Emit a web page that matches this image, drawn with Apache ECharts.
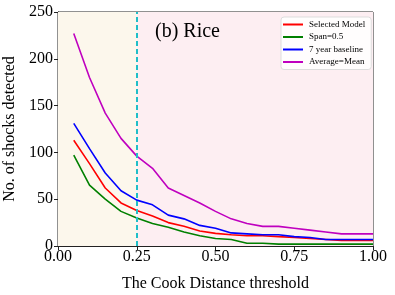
<!DOCTYPE html>
<html><head><meta charset="utf-8">
<script src="https://cdn.jsdelivr.net/npm/echarts@6/dist/echarts.min.js"></script>
<style>html,body{margin:0;padding:0;background:#fff}#c{width:395px;height:295px}</style>
</head><body><div id="c"></div>
<script>
const thresholds = [0.05,0.10,0.15,0.20,0.25,0.30,0.35,0.40,0.45,0.50,0.55,0.60,0.65,0.70,0.75,0.80,0.85,0.90,0.95,1.00];
const selectedModel = [113,88,62,46,38,32,25,21,16,13.5,12,11,11,10,9,8,7,6,6,6];
const span05 = [97,65,50,37,30,24,20,15,11,8,7,3,3,2,2,2,2,2,2,2];
const baseline7 = [131,104,78,59,49,44,33,29,22,19,14,13,12,12,10,9,7,7,7,7];
const averageMean = [227,180,142,115,96,83,62,54,46,37,29,24,21,21,19,17,15,13,13,13];
const xTicks = ['0.00','0.25','0.50','0.75','1.00'];
const cutoff = 0.25;

const pair = arr => thresholds.map((x,i)=>[x,arr[i]]);
const serif = '"Liberation Serif","DejaVu Serif",serif';
const chart = echarts.init(document.getElementById('c'));
const mk = (name,color,arr)=>({name,type:'line',data:pair(arr),symbol:'none',
  lineStyle:{color,width:1.6},itemStyle:{color},z:3});
const s1 = mk('Selected Model','#ff0000',selectedModel);
s1.markArea = {silent:true,data:[
  [{xAxis:0,itemStyle:{color:'#fcf7ec'}},{xAxis:cutoff}],
  [{xAxis:cutoff,itemStyle:{color:'#fdeef2'}},{xAxis:1}]
]};
s1.markLine = {silent:true,symbol:'none',label:{show:false},
  lineStyle:{color:'#1fbfc8',type:[5,3],width:2},data:[{xAxis:cutoff}]};
chart.setOption({
  animation:false,
  grid:{left:58,right:22,top:12,bottom:49,outerBoundsMode:'none',containLabel:false,show:true,borderColor:'#222',borderWidth:1,backgroundColor:'transparent'},
  title:{text:'(b) Rice',left:150,top:17,textStyle:{fontFamily:serif,fontSize:20,fontWeight:'normal',color:'#000'}},
  legend:{orient:'vertical',left:281,top:17,icon:'rect',itemWidth:20,itemHeight:2,itemGap:3.5,
    padding:[3,6,3,2],backgroundColor:'rgba(255,255,255,0.85)',borderColor:'#ddd',borderWidth:1,borderRadius:3,
    textStyle:{fontFamily:serif,fontSize:9,color:'#000',padding:[0,0,0,1]},
    data:['Selected Model','Span=0.5','7 year baseline','Average=Mean']},
  xAxis:{type:'value',min:0,max:1,interval:0.25,name:'The Cook Distance threshold',nameLocation:'middle',nameGap:30,
    nameTextStyle:{fontFamily:serif,fontSize:16,color:'#000'},
    axisLine:{lineStyle:{color:'#222'}},axisTick:{show:true,inside:false,length:4,lineStyle:{color:'#222'}},
    splitLine:{show:false},
    axisLabel:{fontFamily:serif,fontSize:16,color:'#000',margin:3,formatter:v=>xTicks[Math.round(v/0.25)]}},
  yAxis:{type:'value',min:0,max:250,interval:50,name:'No. of shocks detected',nameLocation:'middle',nameGap:38,
    nameTextStyle:{fontFamily:serif,fontSize:16,color:'#000'},
    axisLine:{show:true,lineStyle:{color:'#222'}},axisTick:{show:true,length:4,lineStyle:{color:'#222'}},
    splitLine:{show:false},
    axisLabel:{fontFamily:serif,fontSize:16,color:'#000',margin:5}},
  series:[s1, mk('Span=0.5','#008000',span05), mk('7 year baseline','#0000ff',baseline7), mk('Average=Mean','#bf00bf',averageMean)]
});
</script></body></html>
